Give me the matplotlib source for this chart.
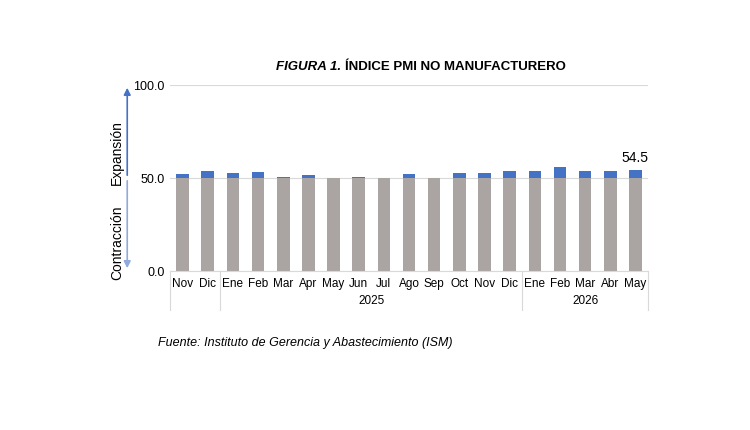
import matplotlib.pyplot as plt
import numpy as np

months = ['Nov', 'Dic', 'Ene', 'Feb', 'Mar', 'Apr', 'May', 'Jun', 'Jul', 'Ago', 'Sep', 'Oct',
          'Nov', 'Dic', 'Ene', 'Feb', 'Mar', 'Abr', 'May']
pmi = [52.1, 54.0, 52.8, 53.0, 50.8, 51.6, 50.0, 50.7, 50.1, 52.1, 50.0, 52.5,
       52.6, 53.8, 53.8, 56.1, 54.0, 53.5, 54.5]
years = ['2025', '2026']
year_spans = [(2, 13), (14, 18)]

plt.rcParams['font.family'] = ['Liberation Sans', 'DejaVu Sans']
fig = plt.figure(figsize=(7.5, 4.3), dpi=100)
ax = fig.add_axes([170/750, 1-271/430, 478/750, 186/430])

x = np.arange(len(months))
vals = np.array(pmi)
base = np.minimum(vals, 50)
ax.bar(x, base, width=0.5, color='#aaa5a3', zorder=2)
ax.bar(x, vals - 50, bottom=50, width=0.5, color='#4472c4', zorder=2)
ax.text(x[-1], vals[-1] + 2.5, f'{vals[-1]:.1f}', ha='center', va='bottom', fontsize=10)

ax.set_xlim(-0.5, len(months) - 0.5)
ax.set_ylim(0, 100)
ax.set_yticks([0, 50, 100])
ax.set_yticklabels(['0.0', '50.0', '100.0'], fontsize=9)
ax.yaxis.grid(True, color='#d9d9d9', lw=0.8, zorder=0)
for s in ['top', 'right', 'left']:
    ax.spines[s].set_visible(False)
ax.spines['bottom'].set_color('#d9d9d9')
ax.tick_params(axis='y', length=0, pad=4)
ax.tick_params(axis='x', length=0, pad=5)
ax.set_xticks(x)
ax.set_xticklabels(months, fontsize=8.5)

# category separators and year labels
for xs in [-0.5, 1.5, 13.5, 18.5]:
    ax.plot([xs, xs], [0, -21], color='#d9d9d9', lw=0.8, clip_on=False)
for yr, (a, b) in zip(years, year_spans):
    ax.text((a + b) / 2, -16, yr, ha='center', va='center', fontsize=8.5)

# expansion / contraction arrows
ax.annotate('', xy=(-2.2, 100), xytext=(-2.2, 50), xycoords='data',
            arrowprops=dict(arrowstyle='-|>', color='#4472c4', lw=1.2), annotation_clip=False)
ax.annotate('', xy=(-2.2, 0), xytext=(-2.2, 50), xycoords='data',
            arrowprops=dict(arrowstyle='-|>', color='#8faadc', lw=1.2), annotation_clip=False)
ax.text(-2.6, 46, 'Expansión', rotation=90, ha='center', va='bottom', fontsize=10,
        rotation_mode='anchor' if False else 'default')
ax.text(-2.6, 35, 'Contracción', rotation=90, ha='center', va='top', fontsize=10)

fig.text(0.455, 1-67/430, 'FIGURA 1.', fontsize=9.5, fontweight='bold', fontstyle='italic',
         ha='right', va='center')
fig.text(0.46, 1-67/430, 'ÍNDICE PMI NO MANUFACTURERO', fontsize=9.5, fontweight='bold',
         ha='left', va='center')
fig.text(158/750, 1-343/430, 'Fuente: Instituto de Gerencia y Abastecimiento (ISM)',
         fontsize=9, fontstyle='italic', va='center')

fig.savefig('out.png', dpi=100, facecolor='white')
